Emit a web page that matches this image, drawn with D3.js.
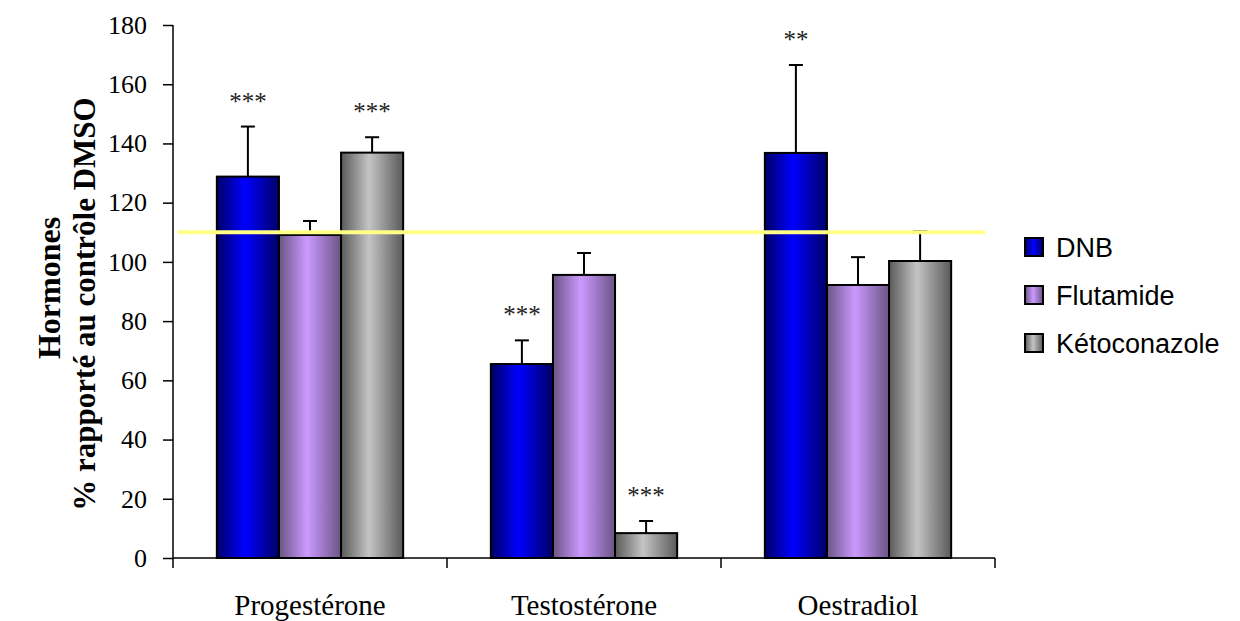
<!DOCTYPE html>
<html>
<head>
<meta charset="utf-8">
<script src="https://cdn.jsdelivr.net/npm/d3@7"></script>
<style>
  body { margin: 0; background: #fff; }
</style>
</head>
<body>
<div id="chart-area"></div>
<script>
// hormone levels, % of DMSO control
const hormones = ['Progestérone', 'Testostérone', 'Oestradiol'];
const series = ['DNB', 'Flutamide', 'Kétoconazole'];
const dnb = [128.8, 65.5, 136.8];
const dnbErr = [16.9, 8, 29.7];
const flutamide = [109.1, 95.6, 92.2];
const flutamideErr = [4.7, 7.4, 9.4];
const keto = [136.9, 8.4, 100.3];
const ketoErr = [5.2, 4.1, 10.1];
const stars = [['***', '', '***'], ['***', '', '***'], ['**', '', '']]; // per hormone, per series
const yTicks = [0, 20, 40, 60, 80, 100, 120, 140, 160, 180];
const controlLine = 110;

const serif = '"Liberation Serif", "Times New Roman", serif';

const margin = { left: 173, right: 245, top: 25, bottom: 63 };
const width = 1240 - margin.left - margin.right;
const height = 621 - margin.top - margin.bottom;

const svg = d3.select('#chart-area')
    .append('svg')
    .attr('width', 1240)
    .attr('height', 621);

// shaded bar fills
const shades = [
    ['#000066', '#0000ff'],
    ['#6a5585', '#cc99ff'],
    ['#5a5a5a', '#c4c4c4']
];
const defs = svg.append('defs');
shades.forEach((s, i) => {
    const grad = defs.append('linearGradient')
        .attr('id', 'grad' + i)
        .attr('x1', '0%').attr('x2', '100%')
        .attr('y1', '0%').attr('y2', '0%');
    grad.append('stop').attr('offset', '0%').attr('stop-color', s[0]);
    grad.append('stop').attr('offset', '45%').attr('stop-color', s[1]);
    grad.append('stop').attr('offset', '100%').attr('stop-color', s[0]);
});

const g = svg.append('g')
    .attr('transform', 'translate(' + margin.left + ', ' + margin.top + ')');

const x = d3.scaleBand()
    .domain(hormones)
    .range([0, width])
    .paddingInner(0.32)
    .paddingOuter(0.16);

const xs = d3.scaleBand()
    .domain(series)
    .range([0, x.bandwidth()]);

const y = d3.scaleLinear()
    .domain([0, 180])
    .range([height, 0]);

const values = [dnb, flutamide, keto];
const errs = [dnbErr, flutamideErr, ketoErr];

const data = [];
hormones.forEach((h, hi) => {
    series.forEach((s, si) => {
        data.push({ h: h, s: s, si: si, v: values[si][hi], e: errs[si][hi], star: stars[hi][si] });
    });
});

const cx = (d) => x(d.h) + xs(d.s) + xs.bandwidth() / 2;

// error bars (drawn first so bar covers lower part)
const eb = g.selectAll('.err')
    .data(data)
    .enter()
    .append('g')
    .attr('class', 'err');

eb.append('line')
    .attr('x1', cx)
    .attr('x2', cx)
    .attr('y1', (d) => y(d.v))
    .attr('y2', (d) => y(d.v + d.e))
    .attr('stroke', '#000')
    .attr('stroke-width', 2);

eb.append('line')
    .attr('x1', (d) => cx(d) - 7)
    .attr('x2', (d) => cx(d) + 7)
    .attr('y1', (d) => y(d.v + d.e))
    .attr('y2', (d) => y(d.v + d.e))
    .attr('stroke', '#000')
    .attr('stroke-width', 2);

g.selectAll('.bar')
    .data(data)
    .enter()
    .append('rect')
    .attr('class', 'bar')
    .attr('x', (d) => x(d.h) + xs(d.s))
    .attr('y', (d) => y(d.v))
    .attr('width', xs.bandwidth())
    .attr('height', (d) => height - y(d.v))
    .attr('fill', (d) => 'url(#grad' + d.si + ')')
    .attr('stroke', '#000')
    .attr('stroke-width', 2);

// significance stars
g.selectAll('.star')
    .data(data.filter((d) => d.star))
    .enter()
    .append('text')
    .attr('class', 'star')
    .attr('x', cx)
    .attr('y', (d) => y(d.v + d.e) - 17)
    .attr('text-anchor', 'middle')
    .style('font-family', serif)
    .style('font-size', '25px')
    .style('fill', '#222')
    .text((d) => d.star);

// control line
g.append('line')
    .attr('x1', 5)
    .attr('x2', width - 10)
    .attr('y1', y(controlLine))
    .attr('y2', y(controlLine))
    .attr('stroke', '#ffff88')
    .attr('stroke-width', 4);

// axes
const yAxis = d3.axisLeft(y)
    .tickValues(yTicks)
    .tickSize(10)
    .tickPadding(16);

const yg = g.append('g').call(yAxis);
yg.select('.domain').attr('d', 'M0,' + height + 'V0').attr('stroke-width', 1.5);
yg.selectAll('.tick line').attr('stroke-width', 1.5);
yg.selectAll('text')
    .style('font-family', serif)
    .style('font-size', '26px')
    .attr('fill', '#000');

const xg = g.append('g').attr('transform', 'translate(0,' + height + ')');
xg.append('line')
    .attr('x1', 0).attr('x2', width)
    .attr('stroke', '#000').attr('stroke-width', 1.5);
xg.selectAll('.xtick')
    .data(d3.range(hormones.length + 1))
    .enter()
    .append('line')
    .attr('class', 'xtick')
    .attr('x1', (i) => i * width / hormones.length)
    .attr('x2', (i) => i * width / hormones.length)
    .attr('y1', 0).attr('y2', 10)
    .attr('stroke', '#000').attr('stroke-width', 1.5);
xg.selectAll('.xlab')
    .data(hormones)
    .enter()
    .append('text')
    .attr('class', 'xlab')
    .attr('x', (d) => x(d) + x.bandwidth() / 2)
    .attr('y', 57)
    .attr('text-anchor', 'middle')
    .style('font-family', serif)
    .style('font-size', '29px')
    .text((d) => d);

// y titles
svg.append('text')
    .attr('transform', 'translate(60,288) rotate(-90)')
    .attr('text-anchor', 'middle')
    .style('font-family', serif)
    .style('font-size', '32px')
    .style('font-weight', 'bold')
    .text('Hormones');
svg.append('text')
    .attr('transform', 'translate(95,304) rotate(-90)')
    .attr('text-anchor', 'middle')
    .style('font-family', serif)
    .style('font-size', '31px')
    .style('font-weight', 'bold')
    .text('% rapporté au contrôle DMSO');

// legend
const legend = svg.append('g').attr('transform', 'translate(1025,238)');
const items = legend.selectAll('.item')
    .data(series)
    .enter()
    .append('g')
    .attr('transform', (d, i) => 'translate(0,' + (i * 48) + ')');
items.append('rect')
    .attr('width', 18).attr('height', 18)
    .attr('fill', (d, i) => 'url(#grad' + i + ')')
    .attr('stroke', '#000').attr('stroke-width', 2);
items.append('text')
    .attr('x', 31).attr('y', 19)
    .style('font-family', '"Liberation Sans", Arial, sans-serif')
    .style('font-size', '27px')
    .text((d) => d);
</script>
</body>
</html>
